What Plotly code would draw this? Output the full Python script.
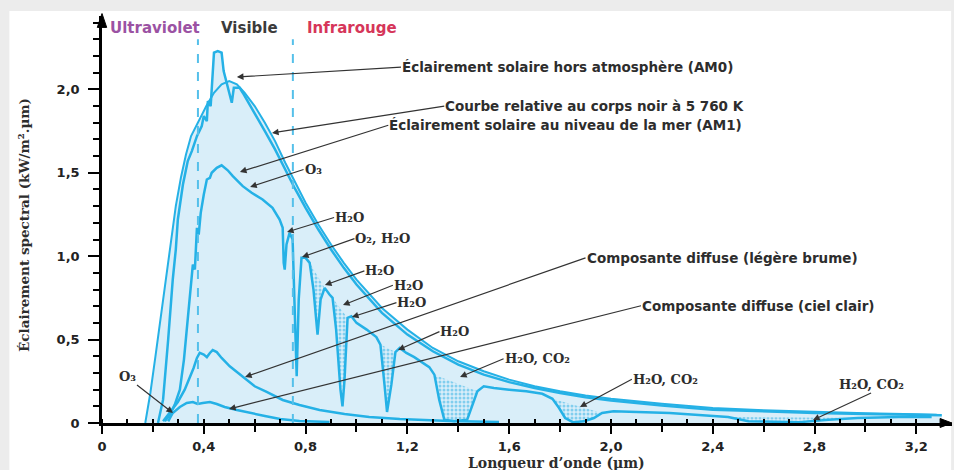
import plotly.graph_objects as go

# ---------------- data (µm, kW/m².µm) ----------------
x_bb = [0.17, 0.19, 0.21, 0.23, 0.25, 0.27, 0.29, 0.31, 0.33, 0.35, 0.38, 0.41, 0.44, 0.47, 0.50, 0.53,
        0.56, 0.60, 0.64, 0.68, 0.72, 0.76, 0.80, 0.85, 0.90, 0.95, 1.00, 1.10, 1.20, 1.30, 1.40, 1.50,
        1.60, 1.70, 1.80, 1.90, 2.00, 2.20, 2.40, 2.60, 2.80, 3.00, 3.20, 3.28]
y_bb = [0.00, 0.18, 0.40, 0.63, 0.84, 1.09, 1.30, 1.47, 1.61, 1.72, 1.81, 1.90, 1.98, 2.03, 2.05, 2.03,
        1.98, 1.90, 1.80, 1.69, 1.56, 1.44, 1.32, 1.19, 1.07, 0.96, 0.86, 0.69, 0.56, 0.45, 0.37, 0.31,
        0.26, 0.22, 0.19, 0.165, 0.145, 0.115, 0.09, 0.076, 0.066, 0.058, 0.052, 0.050]

x_am0 = [0.22, 0.24, 0.26, 0.278, 0.29, 0.298, 0.318, 0.337, 0.353, 0.373, 0.392, 0.40, 0.412, 0.416,
         0.427, 0.431, 0.44, 0.455, 0.47, 0.478, 0.49, 0.502, 0.51, 0.518, 0.541, 0.553, 0.60, 0.64,
         0.68, 0.72, 0.76, 0.80, 0.85, 0.90, 0.95, 1.00, 1.10, 1.20, 1.30, 1.40, 1.50, 1.60, 1.70, 1.80,
         1.90, 2.00, 2.20, 2.40, 2.60, 2.80, 3.00, 3.20, 3.30]
y_am0 = [0.00, 0.14, 0.50, 0.86, 1.04, 1.22, 1.43, 1.57, 1.63, 1.72, 1.78, 1.84, 1.81, 1.93,
         1.90, 2.02, 2.22, 2.23, 2.22, 2.11, 2.04, 1.96, 1.92, 2.01, 2.01, 1.98, 1.86, 1.75,
         1.64, 1.52, 1.40, 1.29, 1.16, 1.04, 0.93, 0.83, 0.66, 0.53, 0.43, 0.35, 0.29, 0.245, 0.21, 0.18,
         0.155, 0.135, 0.105, 0.08, 0.068, 0.06, 0.054, 0.048, 0.046]

x_am1 = [0.247, 0.267, 0.286, 0.306, 0.322, 0.333, 0.345, 0.353, 0.357, 0.365, 0.369, 0.373, 0.38,
         0.388, 0.40, 0.412, 0.424, 0.431, 0.451, 0.47, 0.494, 0.514, 0.553, 0.588, 0.631, 0.67, 0.698,
         0.71, 0.714, 0.718, 0.725, 0.737, 0.749, 0.757, 0.765, 0.773, 0.784, 0.80, 0.816, 0.831, 0.847,
         0.859, 0.875, 0.894, 0.906, 0.92, 0.937, 0.945, 0.953, 0.965, 0.98, 1.0, 1.04, 1.078, 1.094,
         1.11, 1.12, 1.137, 1.153, 1.17, 1.196, 1.227, 1.259, 1.286, 1.306, 1.325, 1.345, 1.384, 1.435,
         1.455, 1.475, 1.50, 1.54, 1.60, 1.667, 1.73, 1.77, 1.796, 1.82, 1.85, 1.894, 1.933, 1.965, 2.01,
         2.11, 2.23, 2.345, 2.46, 2.54, 2.74, 2.855, 2.97, 3.13, 3.26]
y_am1 = [0.01, 0.05, 0.11, 0.20, 0.38, 0.56, 0.77, 0.89, 0.95, 0.92, 1.04, 1.17, 1.13,
         1.26, 1.37, 1.46, 1.47, 1.50, 1.53, 1.545, 1.515, 1.48, 1.42, 1.38, 1.34, 1.29, 1.22,
         1.17, 0.96, 0.92, 1.07, 1.14, 1.10, 0.74, 0.28, 0.74, 0.99, 0.99, 0.96, 0.80, 0.53,
         0.74, 0.81, 0.77, 0.75, 0.56, 0.20, 0.10, 0.26, 0.63, 0.64, 0.60, 0.56, 0.515, 0.47,
         0.23, 0.066, 0.23, 0.425, 0.45, 0.42, 0.395, 0.365, 0.335, 0.29, 0.14, 0.02, 0.01, 0.02,
         0.11, 0.19, 0.22, 0.21, 0.20, 0.19, 0.175, 0.145, 0.09, 0.03, 0.005, 0.01, 0.03, 0.06, 0.07,
         0.065, 0.06, 0.048, 0.036, 0.01, 0.005, 0.02, 0.03, 0.036, 0.036]

x_haze = [0.24, 0.267, 0.298, 0.325, 0.345, 0.36, 0.373, 0.384, 0.40, 0.412, 0.424, 0.435, 0.451, 0.47,
          0.502, 0.553, 0.60, 0.647, 0.71, 0.776, 0.855, 0.953, 1.05, 1.17, 1.365, 1.56]
y_haze = [0.01, 0.066, 0.126, 0.20, 0.27, 0.33, 0.39, 0.42, 0.41, 0.395, 0.42, 0.437, 0.425, 0.39,
          0.34, 0.275, 0.22, 0.186, 0.138, 0.108, 0.078, 0.054, 0.036, 0.024, 0.012, 0.006]

x_clear = [0.26, 0.278, 0.306, 0.333, 0.357, 0.376, 0.396, 0.424, 0.451, 0.482, 0.53, 0.58, 0.64, 0.70,
           0.776, 0.894]
y_clear = [0.01, 0.06, 0.096, 0.12, 0.126, 0.114, 0.12, 0.126, 0.114, 0.096, 0.078, 0.06, 0.042, 0.024,
           0.012, 0.006]

# absorption bands (µm) drawn speckled on the sea-level curve
bands = [(0.81, 0.88), (0.906, 0.97), (1.09, 1.16), (1.30, 1.48), (1.77, 1.97), (2.45, 2.98)]

# spectral domain boundaries (µm)
spectrum_bounds = [0.377, 0.75]

x_label_ticks = [0, 0.4, 0.8, 1.2, 1.6, 2.0, 2.4, 2.8, 3.2]
x_label_text = ["0", "0,4", "0,8", "1,2", "1,6", "2,0", "2,4", "2,8", "3,2"]
x_mid_ticks = [0.2, 0.6, 1.0, 1.4, 1.8, 2.2, 2.6, 3.0]
y_tick_vals = [0, 0.5, 1.0, 1.5, 2.0]
y_tick_text = ["0", "0,5", "1,0", "1,5", "2,0"]

# ---------------- figure ----------------
LINE = "#25b1e6"
FILL = "#d9eef9"

fig = go.Figure()

for xs, ys in [(x_bb, y_bb), (x_am0, y_am0)]:
    fig.add_trace(go.Scatter(x=xs, y=ys, mode="lines", fill="tozeroy", fillcolor=FILL,
                             line=dict(width=0), hoverinfo="skip", showlegend=False))

for a, b in bands:
    bx = [x for x in x_am1 if a <= x <= b]
    by = [y for x, y in zip(x_am1, y_am1) if a <= x <= b]
    fig.add_trace(go.Scatter(x=bx, y=by, mode="lines", fill="toself", fillcolor="rgba(0,0,0,0)",
                             fillpattern=dict(shape=".", fgcolor="#29aee3", bgcolor="rgba(0,0,0,0)",
                                              size=4, solidity=0.45),
                             line=dict(width=0), hoverinfo="skip", showlegend=False))

series = [
    (x_bb, y_bb, 2.0),
    (x_am0, y_am0, 2.5),
    (x_am1, y_am1, 2.5),
    (x_haze, y_haze, 2.5),
    (x_clear, y_clear, 2.5),
]
for xs, ys, w in series:
    fig.add_trace(go.Scatter(x=xs, y=ys, mode="lines", line=dict(color=LINE, width=w),
                             hoverinfo="skip", showlegend=False))

# invisible trace so that the overlay axis carrying the unlabelled 0.2 ticks is drawn
fig.add_trace(go.Scatter(x=x_bb[:1], y=y_bb[:1], xaxis="x2", mode="markers",
                         marker=dict(opacity=0), hoverinfo="skip", showlegend=False))

for b in spectrum_bounds:
    fig.add_shape(type="line", x0=b, x1=b, y0=0, y1=2.3, xref="x", yref="y",
                  line=dict(color="#55c0ea", width=2, dash="dash"), layer="above")

# card background
fig.add_shape(type="rect", xref="paper", yref="paper", x0=-0.109, x1=0.999, y0=-0.2, y1=1.012,
              fillcolor="white", line=dict(width=0), layer="below")

# axis arrowheads
fig.add_shape(type="path", xref="paper", yref="paper", path="M -0.0055,0.972 L 0,1.006 L 0.0055,0.972 Z",
              fillcolor="black", line=dict(color="black", width=1), layer="above")
fig.add_shape(type="path", xref="paper", yref="paper", path="M 0.986,-0.011 L 1.0,0 L 0.986,0.011 Z",
              fillcolor="black", line=dict(color="black", width=1), layer="above")

ann = []
SANS = dict(family="DejaVu Sans", size=13.5, color="#2d2d2d", weight="bold")
SERIF = dict(family="DejaVu Serif", size=13, color="#2d2d2d", weight="bold")

# (text, tail x, tail y, head x, head y, font, xanchor, yanchor) — text box is anchored at the tail
labels = [
    ("Éclairement solaire hors atmosphère (AM0)", 1.175, 2.134, 0.530, 2.074, SANS, "left", "middle"),
    ("Courbe relative au corps noir à 5 760 K", 1.345, 1.900, 0.668, 1.739, SANS, "left", "middle"),
    ("Éclairement solaire au niveau de la mer (AM1)", 1.125, 1.785, 0.542, 1.505, SANS, "left", "middle"),
    ("O₃", 0.792, 1.520, 0.582, 1.415, SERIF, "left", "middle"),
    ("H₂O", 0.912, 1.232, 0.727, 1.145, SERIF, "left", "middle"),
    ("O₂, H₂O", 0.992, 1.105, 0.786, 0.995, SERIF, "left", "middle"),
    ("H₂O", 1.031, 0.912, 0.876, 0.827, SERIF, "left", "middle"),
    ("H₂O", 1.143, 0.826, 0.947, 0.707, SERIF, "left", "middle"),
    ("H₂O", 1.157, 0.722, 0.982, 0.635, SERIF, "left", "middle"),
    ("H₂O", 1.326, 0.548, 1.163, 0.438, SERIF, "left", "middle"),
    ("H₂O, CO₂", 1.578, 0.385, 1.407, 0.276, SERIF, "left", "middle"),
    ("H₂O, CO₂", 2.082, 0.262, 1.878, 0.096, SERIF, "left", "middle"),
    ("H₂O, CO₂", 3.022, 0.180, 2.794, 0.018, SERIF, "center", "bottom"),
    ("Composante diffuse (légère brume)", 1.900, 0.990, 0.562, 0.276, SANS, "left", "middle"),
    ("Composante diffuse (ciel clair)", 2.118, 0.703, 0.499, 0.084, SANS, "left", "middle"),
    ("O₃", 0.1375, 0.228, 0.279, 0.060, SERIF, "right", "bottom"),
]
for text, ax_, ay_, hx, hy, font, xa, ya in labels:
    ann.append(dict(x=hx, y=hy, ax=ax_, ay=ay_, xref="x", yref="y", axref="x", ayref="y",
                    text=text, showarrow=True, arrowhead=2, arrowsize=1.1, arrowwidth=1.2,
                    arrowcolor="#333333", standoff=0, xanchor=xa, yanchor=ya, font=font,
                    borderpad=0))

# domain labels
for text, cx, col in [("Ultraviolet", 0.208, "#9b52a3"), ("Visible", 0.578, "#3b3b3b"),
                      ("Infrarouge", 0.982, "#d6365a")]:
    ann.append(dict(x=cx, y=2.368, xref="x", yref="y", text=text, showarrow=False,
                    xanchor="center", yanchor="middle",
                    font=dict(family="DejaVu Sans", size=15, color=col, weight="bold")))

# axis titles
ann.append(dict(x=-0.0918, y=0.4865, xref="paper", yref="paper", text="Éclairement spectral (kW/m².µm)",
                textangle=-90, showarrow=False, xanchor="center", yanchor="middle",
                font=dict(family="DejaVu Serif", size=13.5, color="#2d2d2d", weight="bold")))
ann.append(dict(x=0.535, y=-0.0725, xref="paper", yref="paper", text="Longueur d’onde (µm)",
                showarrow=False, xanchor="center", yanchor="top",
                font=dict(family="DejaVu Serif", size=14, color="#2d2d2d", weight="bold")))

fig.update_layout(
    width=954, height=470,
    margin=dict(l=102, r=2, t=16, b=47),
    paper_bgcolor="#ececec",
    plot_bgcolor="rgba(0,0,0,0)",
    annotations=ann,
    showlegend=False,
    xaxis=dict(range=[0, 3.34], showgrid=False, zeroline=False, showline=True, linecolor="black",
               linewidth=2.5, tickvals=x_label_ticks, ticktext=x_label_text, ticks="outside",
               ticklen=8, tickwidth=2, tickcolor="black", ticklabelstandoff=2,
               tickfont=dict(family="DejaVu Sans", size=13, color="#222", weight="bold"),
               minor=dict(dtick=0.1, tick0=0, ticks="inside", ticklen=4, tickwidth=1.5,
                          tickcolor="black", showgrid=False)),
    xaxis2=dict(range=[0, 3.34], overlaying="x", anchor="y", side="bottom", showgrid=False,
                zeroline=False, showline=False, tickvals=x_mid_ticks, showticklabels=False,
                ticks="outside", ticklen=8, tickwidth=2, tickcolor="black"),
    yaxis=dict(range=[0, 2.44], showgrid=False, zeroline=False, showline=True, linecolor="black",
               linewidth=2.5, tickvals=y_tick_vals, ticktext=y_tick_text, ticks="outside",
               ticklen=11, tickwidth=2, tickcolor="black", ticklabelstandoff=6,
               tickfont=dict(family="DejaVu Sans", size=13, color="#222", weight="bold"),
               minor=dict(dtick=0.1, tick0=0, ticks="outside", ticklen=6, tickwidth=1.5,
                          tickcolor="black", showgrid=False)),
)

fig.write_html("out.html", config={"displayModeBar": False},
               post_script="document.body.style.margin='0px';")
